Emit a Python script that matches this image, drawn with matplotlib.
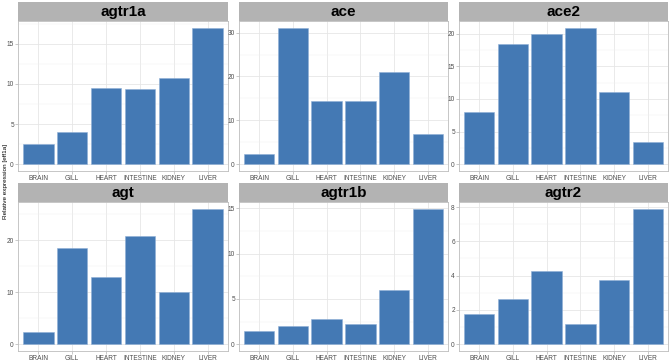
import matplotlib
matplotlib.use("Agg")
import matplotlib.pyplot as plt
import numpy as np

plt.rcParams['font.family'] = ['Liberation Sans', 'DejaVu Sans']

tissues = ["BRAIN", "GILL", "HEART", "INTESTINE", "KIDNEY", "LIVER"]
genes = ["agtr1a", "ace", "ace2", "agt", "agtr1b", "agtr2"]

agtr1a = [2.5, 4.0, 9.5, 9.4, 10.8, 17.0]
ace = [2.4, 31.1, 14.5, 14.5, 21.0, 6.8]
ace2 = [8.0, 18.4, 20.0, 20.9, 11.05, 3.4]
agt = [2.3, 18.4, 12.9, 20.7, 9.95, 26.0]
agtr1b = [1.5, 2.0, 2.75, 2.2, 5.95, 14.95]
agtr2 = [1.78, 2.66, 4.27, 1.17, 3.75, 7.9]

values = [agtr1a, ace, ace2, agt, agtr1b, agtr2]
major_steps = [5, 10, 5, 10, 5, 2]

ylabel = "Relative expression [eff1a]"

W, H = 669, 363
fig = plt.figure(figsize=(W / 100, H / 100), dpi=100)

cols = [(18, 228), (239, 448), (459, 668)]
rows = [(2, 21, 171), (183, 202, 351)]  # strip top, plot top, plot bottom

bar_color = "#4479B4"
grid_c = "#E6E6E6"
border_c = "#BDBDBD"

for i, (gene, vals, step) in enumerate(zip(genes, values, major_steps)):
    r, c = divmod(i, 3)
    x0, x1 = cols[c]
    st, pt, pb = rows[r]
    ax = fig.add_axes([x0 / W, 1 - pb / H, (x1 - x0) / W, (pb - pt) / H])
    x = np.arange(1, len(tissues) + 1)
    vmax = max(vals)
    ax.set_xlim(0.4, len(tissues) + 0.6)
    ax.set_ylim(-0.05 * vmax, 1.05 * vmax)
    major = np.arange(0, vmax * 1.05 + 1e-9, step)
    minor = np.arange(step / 2, vmax * 1.05 + 1e-9, step)
    ax.set_yticks(major)
    ax.set_yticks(minor, minor=True)
    ax.set_xticks(x)
    ax.set_xticklabels(tissues)
    ax.set_yticklabels([f"{int(v)}" for v in major])
    ax.set_axisbelow(True)
    ax.grid(True, which='major', color=grid_c, lw=0.6)
    ax.grid(True, which='minor', axis='y', color="#F2F2F2", lw=0.35)
    ax.bar(x, vals, width=0.9, color=bar_color, edgecolor="#8fb0d6", linewidth=0.4, zorder=2)
    for s in ax.spines.values():
        s.set_color(border_c)
        s.set_linewidth(0.6)
    ax.tick_params(axis='both', which='major', labelsize=4.7, colors="#B3B3B3",
                   labelcolor="#4D4D4D", length=2, width=0.5, pad=1.0)
    ax.tick_params(axis='both', which='minor', length=0)
    sax = fig.add_axes([x0 / W, 1 - pt / H, (x1 - x0) / W, (pt - st) / H])
    sax.set_facecolor("#B3B3B3")
    sax.set_xticks([])
    sax.set_yticks([])
    for s in sax.spines.values():
        s.set_visible(False)
    sax.text(0.5, 0.47, gene, transform=sax.transAxes, ha='center', va='center',
             fontsize=11, fontweight='bold', color='black')

fig.text(6 / W, 0.5, ylabel, rotation=90, ha='center', va='center',
         fontsize=4.6, color='black')

fig.savefig("out.png", dpi=100, facecolor='white')
